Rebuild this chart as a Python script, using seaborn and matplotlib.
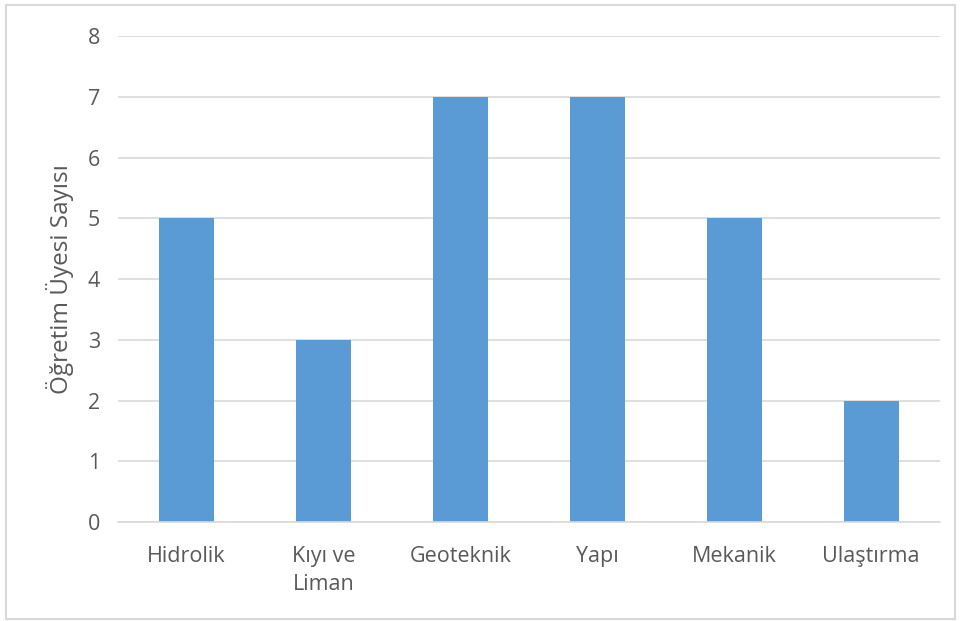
import matplotlib
matplotlib.use("Agg")
import matplotlib.pyplot as plt
import seaborn as sns
import pandas as pd
from matplotlib.patches import Rectangle

categories = ["Hidrolik", "Kıyı ve\nLiman", "Geoteknik", "Yapı", "Mekanik", "Ulaştırma"]
values = [5, 3, 7, 7, 5, 2]
yticks = [0, 1, 2, 3, 4, 5, 6, 7, 8]

sns.set_theme(style="white")
plt.rcParams['font.family'] = ['Open Sans', 'DejaVu Sans']

df = pd.DataFrame({"Bölüm": categories, "Sayı": values})

fig = plt.figure(figsize=(9.61, 6.21), dpi=100)
ax = fig.add_axes([0.1228, 0.1594, 0.855, 0.7826])

sns.barplot(data=df, x="Bölüm", y="Sayı", color="#5B9BD5", width=0.4,
            saturation=1, linewidth=0, ax=ax, zorder=3)

ax.set_ylim(0, 8)
ax.set_yticks(yticks)
ax.set_yticklabels([str(t) for t in yticks])
ax.yaxis.grid(True, color="#D9D9D9", linewidth=1.2, zorder=0)
ax.xaxis.grid(False)
for s in ["top", "right", "left"]:
    ax.spines[s].set_visible(False)
ax.spines["bottom"].set_color("#D9D9D9")
ax.spines["bottom"].set_linewidth(1.2)
ax.spines["bottom"].set_zorder(4)
ax.tick_params(axis="both", length=0, labelsize=15.5, colors="#595959")
ax.tick_params(axis="y", pad=13)
ax.tick_params(axis="x", pad=17)
for lbl in ax.get_xticklabels():
    lbl.set_linespacing(1.45)
ax.set_xlabel("")
ax.set_ylabel("Öğretim Üyesi Sayısı", fontsize=17.5, color="#595959", labelpad=10)

fig.patches.append(Rectangle((0.006, 0.004), 0.988, 0.988, transform=fig.transFigure,
                             fill=False, edgecolor="#D9D9D9", linewidth=1.5))

fig.savefig("out.png", dpi=100)
